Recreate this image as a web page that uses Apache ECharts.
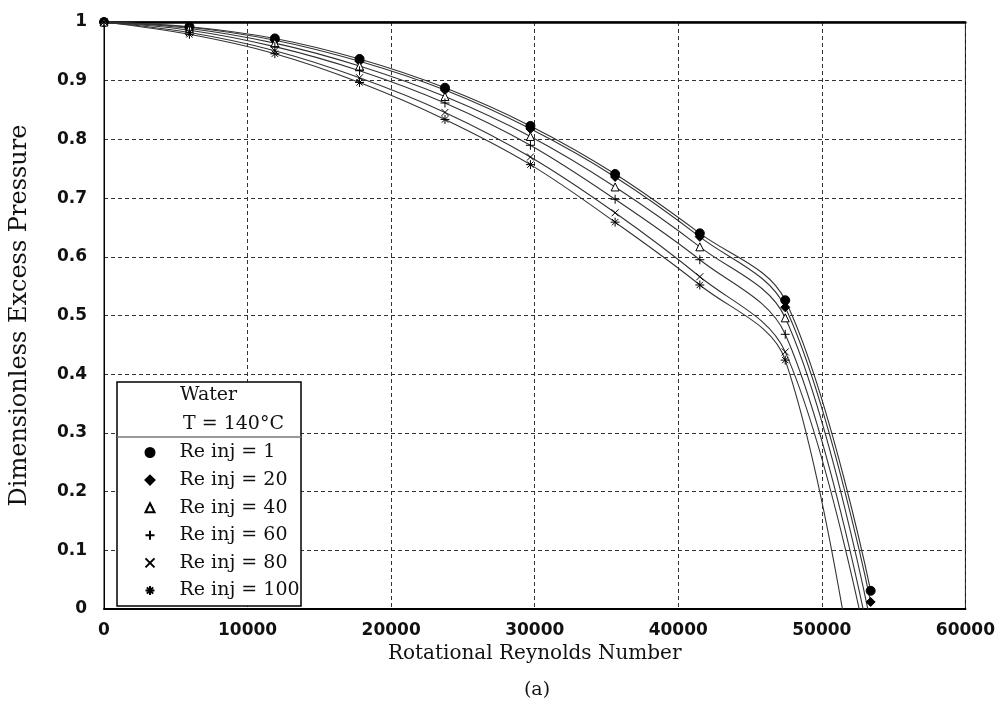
<!DOCTYPE html>
<html>
<head>
<meta charset="utf-8">
<script src="https://cdn.jsdelivr.net/npm/echarts@6/dist/echarts.min.js"></script>
<style>html,body{margin:0;padding:0;background:#fff}#c{width:998px;height:722px}</style>
</head>
<body>
<div id="c"></div>
<script>
const reynolds = [0, 5950, 11900, 17800, 23750, 29700, 35600, 41500, 47450, 53400];
const re1   = [1, 0.992, 0.972, 0.937, 0.888, 0.823, 0.741, 0.640, 0.526, 0.031];
const re20  = [1, 0.991, 0.969, 0.933, 0.884, 0.818, 0.736, 0.634, 0.514, 0.012];
const re40  = [1, 0.989, 0.964, 0.925, 0.873, 0.805, 0.719, 0.617, 0.496, -0.024];
const re60  = [1, 0.986, 0.958, 0.917, 0.862, 0.790, 0.698, 0.595, 0.468, -0.063];
const re80  = [1, 0.982, 0.951, 0.905, 0.846, 0.770, 0.675, 0.566, 0.438, -0.094];
const re100 = [1, 0.979, 0.946, 0.897, 0.834, 0.757, 0.659, 0.552, 0.424, -0.310];
const seriesNames = ['Re inj = 1', 'Re inj = 20', 'Re inj = 40', 'Re inj = 60', 'Re inj = 80', 'Re inj = 100'];
const seriesValues = [re1, re20, re40, re60, re80, re100];
const legendTitle = ['Water', 'T = 140°C'];
const xTitle = 'Rotational Reynolds Number';
const yTitle = 'Dimensionless Excess Pressure';
const caption = '(a)';

const symbols = [
  {symbol: 'circle', size: 9, fill: '#000'},
  {symbol: 'diamond', size: 9, fill: '#000'},
  {symbol: 'triangle', size: 8, fill: '#fff'},
  {symbol: 'path://M5,0L5,10M0,5L10,5', size: 9, fill: 'none'},
  {symbol: 'path://M0,0L10,10M10,0L0,10', size: 7, fill: 'none'},
  {symbol: 'path://M5,0L5,10M0,5L10,5M1.5,1.5L8.5,8.5M8.5,1.5L1.5,8.5', size: 9, fill: 'none'}
];

const series = seriesNames.map((n, i) => ({
  name: n,
  type: 'line',
  smooth: 0.35,
  clip: true,
  data: reynolds.map((x, j) => [x, seriesValues[i][j]]),
  symbol: symbols[i].symbol,
  symbolSize: symbols[i].size,
  showAllSymbol: true,
  lineStyle: {color: '#333', width: 1.1},
  itemStyle: {color: symbols[i].fill, borderColor: '#000', borderWidth: 1},
  z: 3
}));

const chart = echarts.init(document.getElementById('c'));
chart.setOption({
  animation: false,
  backgroundColor: '#fff',
  grid: {left: 104, right: 29, top: 22, bottom: 113, show: true, borderColor: '#000', borderWidth: 1},
  xAxis: [{
    type: 'value', min: 0, max: 60000, interval: 10000,
    axisLine: {show: true, lineStyle: {color: '#000', width: 2}},
    axisTick: {show: false},
    axisLabel: {color: '#111', fontFamily: 'DejaVu Sans', fontWeight: 'bold', fontSize: 17, margin: 13,
      formatter: v => String(v)},
    splitLine: {show: true, lineStyle: {color: '#333', type: [4, 3], width: 1}},
    name: xTitle, nameLocation: 'middle', nameGap: 31,
    nameTextStyle: {color: '#111', fontFamily: 'DejaVu Serif', fontSize: 20}
  }, {
    type: 'value', min: 0, max: 60000, position: 'top',
    axisLine: {show: true, lineStyle: {color: '#000', width: 2.5}},
    axisTick: {show: false}, axisLabel: {show: false}, splitLine: {show: false}
  }],
  yAxis: {
    type: 'value', min: 0, max: 1, interval: 0.1,
    axisLine: {show: true, lineStyle: {color: '#000', width: 1}},
    axisTick: {show: false},
    axisLabel: {color: '#111', fontFamily: 'DejaVu Sans', fontWeight: 'bold', fontSize: 17, margin: 17,
      formatter: v => String(Math.round(v * 10) / 10)},
    splitLine: {show: true, lineStyle: {color: '#333', type: [4, 3], width: 1}},
    name: yTitle, nameLocation: 'middle', nameGap: 72,
    nameTextStyle: {color: '#111', fontFamily: 'DejaVu Serif', fontSize: 24}
  },
  legend: {
    orient: 'vertical', left: 138, top: 438, z: 20,
    itemWidth: 9, itemHeight: 9, itemGap: 8.6,
    data: seriesNames.map((n, i) => ({name: n, icon: symbols[i].symbol})),
    textStyle: {color: '#111', fontFamily: 'DejaVu Serif', fontSize: 19, lineHeight: 19, padding: [0, 0, 0, 20]},
    selectedMode: false
  },
  graphic: [
    {type: 'rect', z: 10, shape: {x: 117, y: 382, width: 184, height: 224},
      style: {fill: '#fff', stroke: '#000', lineWidth: 1.5}},
    {type: 'line', z: 11, shape: {x1: 117, y1: 437, x2: 301, y2: 437}, style: {stroke: '#777', lineWidth: 1.5}},
    {type: 'text', z: 11, style: {text: legendTitle[0], x: 180, y: 395, verticalAlign: 'middle',
      font: '19px "DejaVu Serif"', fill: '#111'}},
    {type: 'text', z: 11, style: {text: legendTitle[1], x: 183, y: 424, verticalAlign: 'middle',
      font: '19px "DejaVu Serif"', fill: '#111'}},
    {type: 'text', z: 11, style: {text: caption, x: 537, y: 690, align: 'center', verticalAlign: 'middle',
      font: '19px "DejaVu Serif"', fill: '#111'}}
  ],
  series: series
});
</script>
</body>
</html>
